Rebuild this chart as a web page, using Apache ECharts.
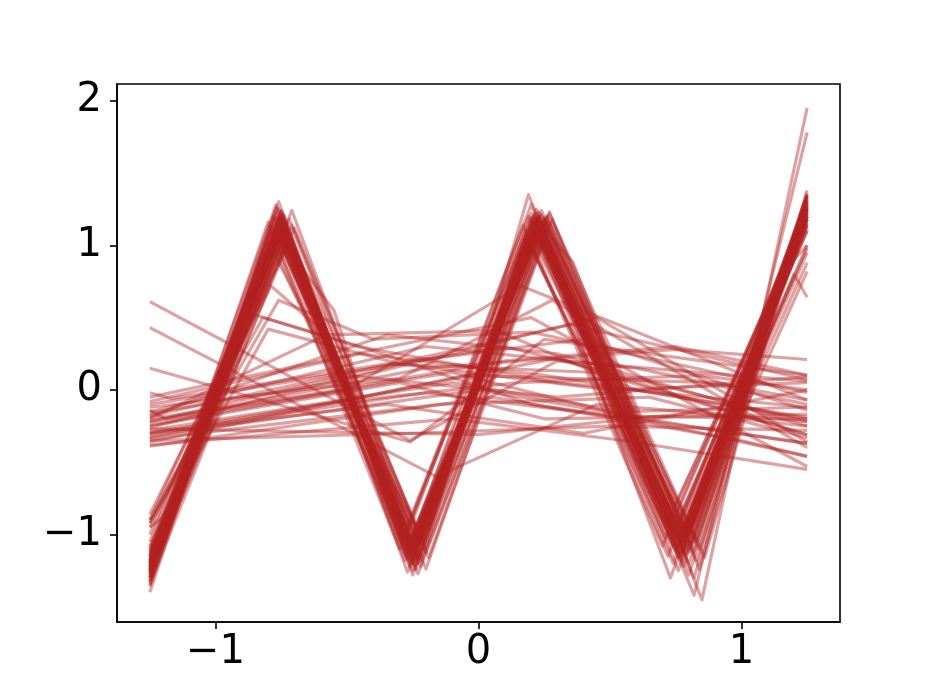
<!DOCTYPE html>
<html>
<head>
<meta charset="utf-8">
<script src="https://cdn.jsdelivr.net/npm/echarts@6/dist/echarts.min.js"></script>
<style>html,body{margin:0;padding:0;background:#fff}#c{width:934px;height:700px}</style>
</head>
<body>
<div id="c"></div>
<script>
// Tick labels
const xTicks = [-1, 0, 1];
const yTicks = [-1, 0, 1, 2];

// Zigzag (wave) samples: [x, y] vertices
const waveLines = [
  [[-1.25,-1.22],[-0.75,1.12],[-0.25,-1.10],[0.22,1.15],[0.78,-1.02],[1.25,1.22]],
  [[-1.25,-1.30],[-0.76,1.18],[-0.24,-1.15],[0.21,1.20],[0.76,-1.08],[1.25,1.28]],
  [[-1.25,-1.15],[-0.74,1.05],[-0.26,-1.05],[0.23,1.10],[0.79,-0.98],[1.25,1.18]],
  [[-1.25,-1.25],[-0.75,1.22],[-0.25,-1.20],[0.20,1.22],[0.75,-1.12],[1.25,1.32]],
  [[-1.25,-1.10],[-0.77,1.08],[-0.23,-1.08],[0.24,1.12],[0.80,-1.00],[1.25,1.15]],
  [[-1.25,-1.35],[-0.76,1.25],[-0.25,-1.25],[0.22,1.25],[0.77,-1.15],[1.25,1.35]],
  [[-1.25,-1.20],[-0.74,1.15],[-0.27,-1.12],[0.25,1.18],[0.82,-1.05],[1.25,1.25]],
  [[-1.25,-1.18],[-0.75,1.00],[-0.24,-1.02],[0.21,1.05],[0.76,-0.95],[1.25,1.10]],
  [[-1.25,-1.28],[-0.73,1.10],[-0.26,-1.18],[0.23,1.14],[0.78,-1.10],[1.25,1.22]],
  [[-1.25,-1.40],[-0.76,1.30],[-0.25,-1.28],[0.27,1.23],[0.85,-1.45],[1.25,1.95]],
  [[-1.25,-1.32],[-0.75,1.20],[-0.22,-1.22],[0.19,1.35],[0.82,-1.42],[1.25,1.78]],
  [[-1.25,-0.90],[-0.78,0.95],[-0.22,-1.00],[0.22,1.08],[0.76,-1.05],[1.25,1.18]],
  [[-1.25,-1.05],[-0.77,1.12],[-0.25,-1.06],[0.24,1.16],[0.75,-0.80],[1.25,1.20]],
  [[-1.25,-1.22],[-0.75,1.18],[-0.26,-1.13],[0.22,1.18],[0.74,-1.20],[1.25,1.27]],
  [[-1.25,-1.26],[-0.74,1.13],[-0.24,-1.09],[0.20,1.12],[0.79,-1.04],[1.25,1.30]],
  [[-1.25,-1.17],[-0.76,1.07],[-0.25,-1.15],[0.23,1.20],[0.80,-1.12],[1.25,1.24]],
  [[-1.25,-1.24],[-0.75,1.16],[-0.27,-1.17],[0.26,1.15],[0.83,-1.18],[1.25,1.33]],
  [[-1.25,-1.13],[-0.73,1.04],[-0.23,-1.03],[0.21,1.02],[0.77,-0.97],[1.25,1.12]],
  [[-1.25,-1.30],[-0.77,1.22],[-0.26,-1.22],[0.24,1.24],[0.78,-1.22],[1.25,1.35]],
  [[-1.25,-1.20],[-0.75,1.10],[-0.25,-1.10],[0.22,1.10],[0.76,-1.02],[1.25,0.98]],
  [[-1.25,-1.08],[-0.76,1.02],[-0.24,-1.00],[0.23,1.08],[0.79,-0.95],[1.25,0.95]],
  [[-1.25,-1.23],[-0.74,1.14],[-0.25,-1.14],[0.20,1.17],[0.75,-1.10],[1.25,1.00]],
  [[-1.25,-1.27],[-0.75,1.19],[-0.23,-1.17],[0.22,1.13],[0.77,-1.06],[1.25,0.88]],
  [[-1.25,-1.19],[-0.76,1.09],[-0.26,-1.08],[0.25,1.19],[0.81,-1.08],[1.25,1.26]],
  [[-1.25,-1.33],[-0.75,1.24],[-0.24,-1.24],[0.21,1.21],[0.76,-1.16],[1.25,1.31]],
  [[-1.25,-1.16],[-0.74,1.06],[-0.25,-1.05],[0.24,1.14],[0.78,-1.00],[1.25,1.20]],
  [[-1.25,-1.21],[-0.75,1.14],[-0.25,-1.12],[0.22,1.16],[0.73,-1.30],[1.25,1.23]],
  [[-1.25,-1.25],[-0.76,1.17],[-0.24,-1.18],[0.23,1.18],[0.76,-1.25],[1.25,1.29]],
  [[-1.25,-1.14],[-0.75,1.08],[-0.26,-1.09],[0.21,1.09],[0.79,-1.01],[1.25,1.16]],
  [[-1.25,-1.29],[-0.74,1.21],[-0.25,-1.20],[0.22,1.22],[0.77,-1.14],[1.25,1.34]],
  [[-1.25,-0.95],[-0.73,0.98],[-0.22,-1.02],[0.18,1.05],[0.74,-0.98],[1.25,1.10]],
  [[-1.25,-1.36],[-0.77,1.26],[-0.27,-1.26],[0.26,1.20],[0.82,-1.30],[1.25,1.38]],
  [[-1.25,-1.12],[-0.75,1.11],[-0.25,-1.11],[0.22,1.12],[0.78,-1.05],[1.20,0.80],[1.25,0.64]],
  [[-1.25,-1.18],[-0.76,1.13],[-0.24,-1.13],[0.23,1.17],[0.76,-1.09],[1.20,0.90],[1.25,1.00]],
  [[-1.25,-1.26],[-0.75,1.15],[-0.25,-1.16],[0.22,1.19],[0.77,-1.12],[1.25,0.82]],
  [[-1.25,-0.92],[-0.79,0.72],[-0.62,0.45],[-0.22,-1.05],[0.22,1.10],[0.77,-1.00],[1.25,1.20]],
  [[-1.25,-1.00],[-0.76,1.05],[-0.55,0.55],[-0.25,-1.10],[0.23,1.12],[0.78,-1.05],[1.25,1.20]],
  [[-1.25,-1.22],[-0.75,1.12],[-0.24,-1.12],[0.22,1.18],[0.36,0.88],[0.78,-1.10],[1.25,1.25]],
  [[-1.25,-1.24],[-0.76,1.20],[-0.25,-1.14],[0.21,1.16],[0.80,-1.20],[1.25,1.28]],
  [[-1.25,-1.20],[-0.74,1.16],[-0.26,-1.19],[0.24,1.21],[0.79,-1.13],[1.25,1.27]],
  [[-1.25,-1.28],[-0.75,1.23],[-0.24,-1.21],[0.23,1.23],[0.77,-1.18],[1.25,1.30]],
  [[-1.25,-1.15],[-0.76,1.11],[-0.25,-1.07],[0.22,1.13],[0.78,-1.06],[1.25,1.21]],
  [[-1.25,-1.18],[-0.79,1.10],[-0.29,-1.06],[0.18,1.10],[0.71,-1.02],[1.25,1.22]],
  [[-1.25,-1.24],[-0.71,1.14],[-0.20,-1.12],[0.27,1.16],[0.84,-1.10],[1.25,1.26]],
  [[-1.25,-1.30],[-0.78,1.20],[-0.28,-1.18],[0.19,1.20],[0.72,-1.15],[1.25,1.30]],
  [[-1.25,-1.10],[-0.72,1.06],[-0.21,-1.04],[0.26,1.12],[0.83,-1.04],[1.25,1.18]],
  [[-1.25,-1.22],[-0.80,1.16],[-0.30,-1.10],[0.17,1.14],[0.70,-1.08],[1.25,1.24]],
  [[-1.25,-1.27],[-0.70,1.12],[-0.19,-1.16],[0.28,1.18],[0.86,-1.16],[1.25,1.32]],
  [[-1.25,-1.16],[-0.77,1.28],[-0.27,-1.00],[0.20,1.28],[0.74,-0.98],[1.25,1.14]],
  [[-1.25,-1.34],[-0.73,1.02],[-0.23,-1.27],[0.25,1.04],[0.80,-1.28],[1.25,1.36]],
  [[-1.25,-1.20],[-0.78,1.14],[-0.28,-1.14],[0.21,1.15],[0.73,-1.06],[1.25,1.20]],
  [[-1.25,-1.26],[-0.72,1.18],[-0.22,-1.18],[0.26,1.20],[0.82,-1.12],[1.25,1.28]],
  [[-1.25,-1.12],[-0.79,1.04],[-0.29,-1.02],[0.18,1.06],[0.71,-0.94],[1.25,1.14]],
  [[-1.25,-1.32],[-0.71,1.24],[-0.20,-1.24],[0.27,1.22],[0.84,-1.24],[1.25,1.34]],
  [[-1.25,-1.19],[-0.77,1.19],[-0.27,-1.08],[0.23,1.08],[0.79,-1.14],[1.25,1.24]],
  [[-1.25,-1.23],[-0.74,1.09],[-0.23,-1.20],[0.20,1.19],[0.76,-1.03],[1.25,1.18]]
];

// Flat (noise) samples: [x, y] vertices
const noiseLines = [
  [[-1.25,0.61],[-0.26,-0.35],[0.30,0.20],[1.25,0.06]],
  [[-1.25,0.43],[-0.16,-0.60],[0.45,-0.10],[1.25,-0.22]],
  [[-1.25,-0.02],[-1.17,-0.06],[-0.35,0.18],[0.45,0.12],[1.25,-0.31]],
  [[-1.25,-0.14],[-1.19,-0.20],[-0.10,0.12],[0.60,-0.20],[1.25,-0.46]],
  [[-1.25,-0.22],[-0.20,0.15],[0.75,0.28],[1.25,0.21]],
  [[-1.25,-0.28],[-0.10,0.05],[0.55,-0.15],[1.25,-0.12]],
  [[-1.25,-0.32],[0.00,0.00],[0.80,-0.25],[1.25,-0.37]],
  [[-1.25,-0.36],[-0.05,0.10],[0.90,0.05],[1.25,-0.07]],
  [[-1.25,-0.25],[-0.30,0.05],[0.25,-0.20],[1.25,-0.17]],
  [[-1.25,-0.39],[0.05,-0.05],[1.00,-0.35],[1.25,-0.46]],
  [[-1.25,-0.18],[-0.15,0.25],[0.35,0.45],[1.25,0.07]],
  [[-1.25,-0.30],[-0.20,-0.02],[0.50,-0.18],[1.25,-0.20]],
  [[-1.25,-0.10],[-0.40,0.15],[0.10,0.30],[1.25,-0.22]],
  [[-1.25,-0.33],[-0.45,-0.05],[0.30,0.22],[1.25,-0.31]],
  [[-1.25,-0.90],[-0.82,0.50],[-0.45,0.30],[0.20,-0.10],[1.25,-0.37]],
  [[-1.25,-0.86],[-0.87,0.53],[-0.46,0.30],[0.30,0.05],[1.25,-0.12]],
  [[-1.25,-0.95],[-1.20,-0.88],[-0.80,0.42],[-0.30,0.18],[0.50,0.00],[1.25,0.05]],
  [[-1.25,-0.20],[-0.58,0.38],[0.07,0.41],[0.60,0.00],[1.25,-0.20]],
  [[-1.25,-0.24],[-0.50,0.00],[0.16,0.72],[1.25,-0.07]],
  [[-1.25,-0.35],[-0.25,-0.30],[0.50,-0.25],[1.25,-0.28]],
  [[-1.25,-0.27],[0.00,-0.31],[0.80,-0.16],[1.25,-0.25]],
  [[-1.25,-0.05],[-0.60,0.20],[0.20,0.50],[1.25,-0.53]],
  [[-1.25,-0.12],[-0.30,0.08],[0.28,0.62],[1.25,-0.40]],
  [[-1.25,-0.20],[-0.70,-0.05],[0.10,0.20],[0.75,0.30],[1.25,0.10]],
  [[-1.25,-0.30],[-0.35,-0.10],[0.40,-0.30],[1.25,0.00]],
  [[-1.25,-0.15],[-0.20,0.30],[0.60,0.15],[1.25,-0.10]],
  [[-1.25,-0.38],[-0.10,-0.20],[0.55,-0.35],[1.25,-0.55]],
  [[-1.25,-0.22],[-0.50,0.10],[0.30,-0.05],[1.25,0.09]],
  [[-1.25,-0.26],[-0.25,0.20],[0.40,0.35],[1.25,-0.14]],
  [[-1.25,-0.08],[-0.45,0.25],[0.25,0.10],[1.25,-0.19]],
  [[-1.25,-0.34],[-0.15,-0.10],[0.65,-0.05],[1.25,-0.33]],
  [[-1.25,-0.92],[-0.76,0.62],[-0.40,0.35],[0.20,0.40],[1.25,-0.02]],
  [[-1.25,-0.18],[-0.35,0.38],[0.30,0.25],[1.25,-0.25]],
  [[-1.25,-0.30],[-0.60,-0.10],[0.15,0.05],[0.85,0.10],[1.25,0.00]],
  [[-1.25,0.15],[-0.26,-0.36],[0.25,0.35],[1.25,0.10]],
  [[-1.25,-0.16],[-0.55,0.05],[0.45,0.50],[1.25,-0.36]]
];

const lineColor = 'rgba(178,34,34,0.42)';
const series = [];
waveLines.concat(noiseLines).forEach(function (pts) {
  series.push({
    type: 'line', data: pts, showSymbol: false, symbol: 'none', silent: true,
    lineStyle: { color: lineColor, width: 3.2, join: 'round', cap: 'butt' },
    animation: false
  });
});

const fmt = function (v) { return String(v).replace('-', '\u2212'); };
const labelStyle = { color: '#000', fontSize: 40, fontFamily: 'DejaVu Sans' };

const chart = echarts.init(document.getElementById('c'), null, { renderer: 'canvas' });
chart.setOption({
  backgroundColor: '#fff',
  animation: false,
  grid: { left: 117, right: 94, top: 84, bottom: 78, show: true, borderColor: '#000', borderWidth: 1.6, backgroundColor: 'transparent' },
  xAxis: {
    type: 'value', min: -1.375, max: 1.375,
    splitLine: { show: false },
    axisLine: { show: true, onZero: false, lineStyle: { color: '#000', width: 1.6 } },
    axisTick: { show: true, length: 7, inside: false, customValues: xTicks, lineStyle: { color: '#000', width: 1.6 } },
    axisLabel: Object.assign({ margin: 11, customValues: xTicks, formatter: fmt }, labelStyle)
  },
  yAxis: {
    type: 'value', min: -1.605, max: 2.115,
    splitLine: { show: false },
    axisLine: { show: true, onZero: false, lineStyle: { color: '#000', width: 1.6 } },
    axisTick: { show: true, length: 7, inside: false, customValues: yTicks, lineStyle: { color: '#000', width: 1.6 } },
    axisLabel: Object.assign({ margin: 15, customValues: yTicks, formatter: fmt }, labelStyle)
  },
  series: series
});
</script>
</body>
</html>
